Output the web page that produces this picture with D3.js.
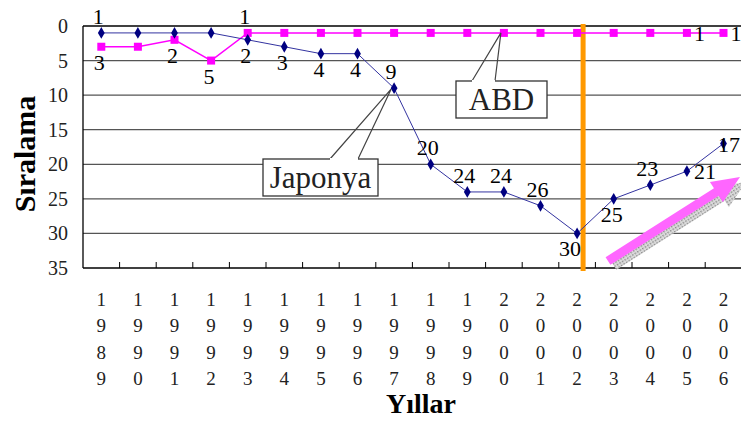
<!DOCTYPE html>
<html>
<head>
<meta charset="utf-8">
<script src="https://cdn.jsdelivr.net/npm/d3@7"></script>
<style>
  body { margin: 0; background: #fff; }
</style>
</head>
<body>
<div id="chart"></div>
<script>
var svgWidth = 741;
var svgHeight = 423;

// data
var years = ["1989","1990","1991","1992","1993","1994","1995","1996","1997",
             "1998","1999","2000","2001","2002","2003","2004","2005","2006"];
var japan = [1,1,1,1,2,3,4,4,9,20,24,24,26,30,25,23,21,17];
var usa   = [3,3,2,5,1,1,1,1,1,1,1,1,1,1,1,1,1,1];
var yTicks = [0,5,10,15,20,25,30,35];
// which labels are shown (null = hidden) and where
var japanLabelPos = ["top",null,null,null,"bottom","bottom","bottom","bottom","top",
                     "top","top","top","top","bottomleft","bottom","top","right","edge"];
var usaLabelPos   = ["bottom",null,"bottom","bottom","top",null,null,null,null,
                     null,null,null,null,null,null,null,"right","right"];

var margin = { top: 26, left: 83 };

var svg = d3.select("#chart")
  .append("svg")
  .attr("width", svgWidth)
  .attr("height", svgHeight)
  .attr("font-family", "'Liberation Serif', 'DejaVu Serif', 'Times New Roman', serif");

var xScale = d3.scaleBand()
  .domain(years)
  .range([margin.left, margin.left + 36.6 * years.length]);

var yScale = d3.scaleLinear()
  .domain([0, 35])
  .range([margin.top, 268]);

// horizontal grid lines
svg.append("g")
  .selectAll("line")
  .data(yTicks)
  .enter()
  .append("line")
  .attr("x1", margin.left)
  .attr("x2", svgWidth)
  .attr("y1", d => yScale(d))
  .attr("y2", d => yScale(d))
  .attr("stroke", d => (d == 0 || d == 35) ? "#000" : "#555")
  .attr("stroke-width", 1.3);

// y axis line
svg.append("line")
  .attr("x1", margin.left).attr("x2", margin.left)
  .attr("y1", yScale(0)).attr("y2", yScale(35))
  .attr("stroke", "#000").attr("stroke-width", 1.3);

// y tick labels
svg.append("g")
  .selectAll("text")
  .data(yTicks)
  .enter()
  .append("text")
  .attr("x", 68)
  .attr("y", d => yScale(d) + 7)
  .attr("text-anchor", "end")
  .attr("font-size", 20)
  .attr("fill", "#222")
  .text(d => d);

// x tick marks (inside, at category boundaries)
svg.append("g")
  .selectAll("line")
  .data(years.slice(1))
  .enter()
  .append("line")
  .attr("x1", d => xScale(d))
  .attr("x2", d => xScale(d))
  .attr("y1", yScale(35))
  .attr("y2", yScale(35) - 6)
  .attr("stroke", "#000");

// x tick labels, stacked digits
var xl = svg.append("g");
years.forEach(function(yr) {
  var t = xl.append("text")
    .attr("text-anchor", "middle")
    .attr("font-size", 19)
    .attr("fill", "#222");
  yr.split("").forEach(function(ch, i) {
    t.append("tspan")
      .attr("x", xScale(yr) + xScale.bandwidth() / 2)
      .attr("y", 306 + i * 26.3)
      .text(ch);
  });
});

// axis titles
svg.append("text")
  .attr("transform", "translate(35,154) rotate(-90)")
  .attr("text-anchor", "middle")
  .attr("font-size", 30)
  .attr("font-weight", "bold")
  .text("Sıralama");

svg.append("text")
  .attr("x", 421)
  .attr("y", 413)
  .attr("text-anchor", "middle")
  .attr("font-size", 28)
  .attr("font-weight", "bold")
  .text("Yıllar");

var cx = d => xScale(d) + xScale.bandwidth() / 2;

// orange divider between 2002 and 2003
svg.append("line")
  .attr("x1", cx("2002") + 6).attr("x2", cx("2002") + 6)
  .attr("y1", yScale(0) - 2).attr("y2", yScale(35) + 3)
  .attr("stroke", "#ff9900")
  .attr("stroke-width", 5);

var line = d3.line()
  .x(d => cx(d.year))
  .y(d => yScale(d.v));

var usaData = years.map((y, i) => ({year: y, v: usa[i], pos: usaLabelPos[i]}));
var japanData = years.map((y, i) => ({year: y, v: japan[i], pos: japanLabelPos[i]}));

// USA line
svg.append("path")
  .datum(usaData)
  .attr("d", line)
  .attr("fill", "none")
  .attr("stroke", "#ff00ff")
  .attr("stroke-width", 1.5);

svg.append("g")
  .selectAll("rect")
  .data(usaData)
  .enter()
  .append("rect")
  .attr("x", d => cx(d.year) - 4)
  .attr("y", d => yScale(d.v) - 4)
  .attr("width", 8)
  .attr("height", 8)
  .attr("fill", "#ff00ff");

// Japan line
svg.append("path")
  .datum(japanData)
  .attr("d", line)
  .attr("fill", "none")
  .attr("stroke", "#3333a0")
  .attr("stroke-width", 1);

svg.append("g")
  .selectAll("path")
  .data(japanData)
  .enter()
  .append("path")
  .attr("d", d3.symbol().type(d3.symbolDiamond).size(40))
  .attr("transform", d => `translate(${cx(d.year)}, ${yScale(d.v)})`)
  .attr("fill", "#000080");

// data labels
function labelXY(d) {
  var x = cx(d.year), y = yScale(d.v);
  if (d.pos == "top") return [x - 3, y - 9, "middle"];
  if (d.pos == "bottom") return [x - 2, y + 23, "middle"];
  if (d.pos == "bottomleft") return [x - 7, y + 23, "middle"];
  if (d.pos == "right") return [x + 7, y + 8, "start"];
  if (d.pos == "edge") return [svgWidth - 1, y + 8, "end"];
}
function drawLabels(data) {
  svg.append("g")
    .selectAll("text")
    .data(data.filter(d => d.pos))
    .enter()
    .append("text")
    .attr("x", d => labelXY(d)[0])
    .attr("y", d => labelXY(d)[1])
    .attr("text-anchor", d => labelXY(d)[2])
    .attr("font-size", 22)
    .attr("fill", "#000")
    .text(d => d.v);
}
drawLabels(japanData);
drawLabels(usaData);

// callouts
function callout(tx, ty, bx, by, bw, bh, a1, a2, label) {
  var g = svg.append("g");
  g.append("rect")
    .attr("x", bx).attr("y", by)
    .attr("width", bw).attr("height", bh)
    .attr("fill", "#fff")
    .attr("stroke", "#333")
    .attr("stroke-width", 1.3);
  g.append("path")
    .attr("d", `M${bx + a1},${by} L${tx},${ty} L${bx + a2},${by}`)
    .attr("fill", "none")
    .attr("stroke", "#444")
    .attr("stroke-width", 1.2);
  g.append("line")
    .attr("x1", bx + a1).attr("x2", bx + a2)
    .attr("y1", by).attr("y2", by)
    .attr("stroke", "#fff").attr("stroke-width", 2);
  g.append("text")
    .attr("x", bx + bw / 2)
    .attr("y", by + bh / 2 + 10)
    .attr("text-anchor", "middle")
    .attr("font-size", 31)
    .attr("fill", "#222")
    .text(label);
}
callout(cx("2000") - 3, yScale(1), 456, 81, 91, 37, 16, 39, "ABD");
callout(cx("1997") - 3, yScale(9) + 1, 263, 159, 115, 37, 67, 95, "Japonya");

// trend arrow with shadow
function arrow(g, x0, y0, x1, y1, fill) {
  var ang = Math.atan2(y1 - y0, x1 - x0);
  var len = Math.hypot(x1 - x0, y1 - y0);
  var sw = 4.5, hw = 12, hl = 28;
  var pts = [[0, -sw], [len - hl, -sw], [len - hl, -hw], [len, 0],
             [len - hl, hw], [len - hl, sw], [0, sw]];
  g.append("polygon")
    .attr("points", pts.map(p => p.join(",")).join(" "))
    .attr("transform", `translate(${x0},${y0}) rotate(${ang * 180 / Math.PI})`)
    .attr("fill", fill);
}
var defs = svg.append("defs");
var pat = defs.append("pattern")
  .attr("id", "hatch")
  .attr("width", 3).attr("height", 3)
  .attr("patternUnits", "userSpaceOnUse");
pat.append("rect").attr("width", 3).attr("height", 3).attr("fill", "#ddd");
pat.append("rect").attr("width", 1.5).attr("height", 1.5).attr("fill", "#888");
var ag = svg.append("g");
arrow(ag, 614, 266, 746, 182, "url(#hatch)");
arrow(ag, 608, 261, 740, 177, "#ff66ff");
</script>
</body>
</html>
